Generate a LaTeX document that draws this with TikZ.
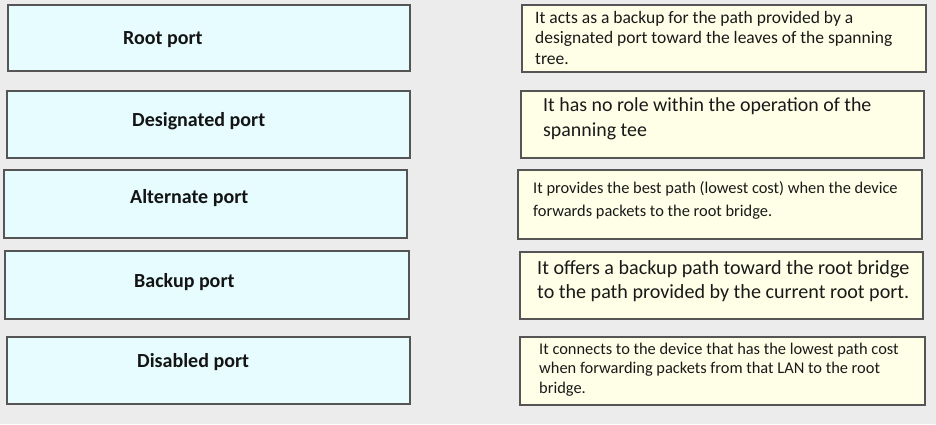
\documentclass[tikz,border=0pt]{standalone}
\usepackage{fontspec}
\setmainfont{Carlito}
\definecolor{bgc}{RGB}{236,236,236}
\definecolor{leftfill}{RGB}{230,252,255}
\definecolor{rightfill}{RGB}{255,255,232}
\definecolor{edgec}{RGB}{85,85,85}
\tikzset{
  portbox/.style={draw=edgec, line width=1.6pt, fill=leftfill},
  descbox/.style={draw=edgec, line width=1.6pt, fill=rightfill},
  portlabel/.style={anchor=west, inner sep=0pt, font=\bfseries\fontsize{20}{24}\selectfont, text=black!92},
  desctext/.style={anchor=north west, inner sep=0pt, align=left, text=black!90}
}
\begin{document}
\begin{tikzpicture}[x=1pt,y=-1pt]
\fill[bgc] (0,0) rectangle (936,424);
\useasboundingbox (0,0) rectangle (936,424);
% left boxes
\draw[portbox] (8,5) rectangle (410,71);
\draw[portbox] (7,91) rectangle (410,158);
\draw[portbox] (4,170) rectangle (407,238);
\draw[portbox] (5,251) rectangle (409,319);
\draw[portbox] (7,337) rectangle (410,404);
% right boxes
\draw[descbox] (522,5) rectangle (926,72);
\draw[descbox] (521,91) rectangle (924,158);
\draw[descbox] (518,170) rectangle (922,239);
\draw[descbox] (520,252) rectangle (923,319);
\draw[descbox] (520,337) rectangle (925,405);
% labels
\node[portlabel] (root) at (123,40) {Root port};
\node[portlabel] (desig) at (132,121.5) {Designated port};
\node[portlabel] (alt) at (130,198.5) {Alternate port};
\node[portlabel] (backup) at (134,282.5) {Backup port};
\node[portlabel] (disabled) at (137,362.5) {Disabled port};
% descriptions
\node[desctext, font=\fontsize{17.5}{20.5}\selectfont] (d1) at (535,11) {It acts as a backup for the path provided by a\\designated port toward the leaves of the spanning\\tree.};
\node[desctext, font=\fontsize{19.9}{25}\selectfont] (d2) at (543,97.5) {It has no role within the operation of the\\spanning tee};
\node[desctext, font=\fontsize{16.4}{23}\selectfont] (d3) at (533,181.5) {It provides the best path (lowest cost) when the device\\forwards packets to the root bridge.};
\node[desctext, font=\fontsize{20.1}{24}\selectfont] (d4) at (537,260.5) {It offers a backup path toward the root bridge\\to the path provided by the current root port.};
\node[desctext, font=\fontsize{16.4}{19.7}\selectfont] (d5) at (539,342.5) {It connects to the device that has the lowest path cost\\when forwarding packets from that LAN to the root\\bridge.};
\end{tikzpicture}
\end{document}
